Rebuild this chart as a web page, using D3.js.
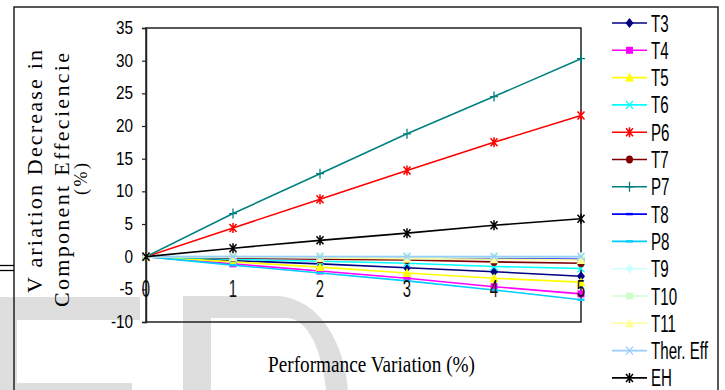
<!DOCTYPE html>
<html><head><meta charset="utf-8">
<script src="https://cdn.jsdelivr.net/npm/d3@7"></script>
<style>html,body{margin:0;padding:0;background:#fff;}svg{display:block;}</style>
</head><body>
<svg id="c" width="725" height="390"></svg>
<script>
const xValues = [0, 1, 2, 3, 4, 5];
const xTickLabels = ["0", "1", "2", "3", "4", "5"];
const yTicks = [-10, -5, 0, 5, 10, 15, 20, 25, 30, 35];
const seriesNames = ["T3", "T4", "T5", "T6", "P6", "T7", "P7", "T8", "P8", "T9", "T10", "T11", "Ther. Eff", "EH"];
const T3 = [0, -0.6, -1.1, -1.7, -2.3, -3.0];
const T4 = [0, -1.1, -2.2, -3.3, -4.6, -5.7];
const T5 = [0, -0.8, -1.6, -2.5, -3.3, -3.9];
const T6 = [0, -0.4, -0.7, -1.0, -1.5, -1.8];
const P6 = [0, 4.4, 8.8, 13.2, 17.5, 21.6];
const T7 = [0, -0.2, -0.4, -0.5, -0.8, -1.0];
const P7 = [0, 6.6, 12.7, 18.8, 24.5, 30.3];
const T8 = [0, -0.1, -0.2, -0.25, -0.3, -0.4];
const P8 = [0, -1.3, -2.5, -3.7, -5.1, -6.6];
const T9 = [0, 0, 0, 0, 0, 0];
const T10 = [0, 0, -0.1, -0.1, -0.1, -0.1];
const T11 = [0, -0.1, -0.2, -0.3, -0.4, -0.5];
const TherEff = [0, 0, 0, 0, 0, 0];
const EH = [0, 1.3, 2.5, 3.6, 4.8, 5.8];
const seriesValues = [T3, T4, T5, T6, P6, T7, P7, T8, P8, T9, T10, T11, TherEff, EH];
const seriesColors = ["#000080", "#ff00ff", "#ffff00", "#00ffff", "#ff0000", "#800000", "#008080", "#0000ff", "#00ccff", "#ccffff", "#ccffcc", "#ffff99", "#99ccff", "#000000"];
const seriesMarkers = ["diamond", "square", "triangle", "x", "star", "circle", "plus", "dash", "dash", "diamond", "square", "triangle", "x", "star"];
const xTitle = "Performance Variation (%)";
const yTitleLines = ["V ariation Decrease in", "Component Effeciencie", "(%)"];

const svg = d3.select("#c");
svg.append("rect").attr("width", 725).attr("height", 390).attr("fill", "#fff");

// background watermark shapes
const wm = svg.append("g").attr("fill", "#dedede");
wm.append("rect").attr("x", 0).attr("y", 297).attr("width", 140).attr("height", 23);
wm.append("rect").attr("x", 0).attr("y", 297).attr("width", 17).attr("height", 93);
wm.append("rect").attr("x", 17).attr("y", 383).attr("width", 115).attr("height", 7);
wm.append("path").attr("d", "M183,296 L280,296 C318,300 344,340 348,390 L326,390 C322,350 308,320 288,318 L211,318 L211,390 L183,390 Z");

// outer frame
svg.append("path").attr("d", "M14,390 L14,7 L718,7 L718,390").attr("fill", "none").attr("stroke", "#222").attr("stroke-width", 1.5);
svg.append("line").attr("x1", 0).attr("x2", 14).attr("y1", 265.5).attr("y2", 265.5).attr("stroke", "#000").attr("stroke-width", 1.3);
svg.append("line").attr("x1", 0).attr("x2", 14).attr("y1", 270.5).attr("y2", 270.5).attr("stroke", "#000").attr("stroke-width", 1.3);

const x = d3.scaleLinear().domain([0, 5]).range([146, 581]);
const y = d3.scaleLinear().domain([-10, 35]).range([322, 28]);

// plot box
svg.append("rect").attr("x", x(0)).attr("y", y(35)).attr("width", x(5) - x(0)).attr("height", y(-10) - y(35))
  .attr("fill", "none").attr("stroke", "#222").attr("stroke-width", 1.5);

// y axis
const yAxis = svg.append("g").attr("transform", `translate(${x(0)},0)`)
  .call(d3.axisLeft(y).tickValues(yTicks).tickSize(4).tickFormat(""));
yAxis.select(".domain").attr("stroke", "#222").attr("stroke-width", 1.5);
yAxis.selectAll(".tick line").attr("stroke", "#222").attr("stroke-width", 1.2);

svg.append("g").selectAll("text").data(yTicks).join("text")
  .attr("transform", d => `translate(133,${y(d) + 6}) scale(0.85,1)`)
  .attr("text-anchor", "end").attr("font-family", "'Liberation Sans', Arial, sans-serif").attr("font-size", 18)
  .attr("fill", "#000").text(d => d);

// lines & markers
const line = d3.line().x((d, i) => x(xValues[i])).y(d => y(d));

function marker(g, type, color, cx, cy) {
  const s = 4;
  if (type === "diamond") {
    g.append("path").attr("d", `M${cx},${cy - s - 1}L${cx + s},${cy}L${cx},${cy + s + 1}L${cx - s},${cy}Z`).attr("fill", color);
  } else if (type === "square") {
    g.append("rect").attr("x", cx - 3.5).attr("y", cy - 3.5).attr("width", 7).attr("height", 7).attr("fill", color);
  } else if (type === "triangle") {
    g.append("path").attr("d", `M${cx},${cy - 5}L${cx + 4.5},${cy + 4}L${cx - 4.5},${cy + 4}Z`).attr("fill", color);
  } else if (type === "circle") {
    g.append("ellipse").attr("cx", cx).attr("cy", cy).attr("rx", 3.5).attr("ry", 4).attr("fill", color);
  } else if (type === "x") {
    g.append("path").attr("d", `M${cx - 3.5},${cy - 4}L${cx + 3.5},${cy + 4}M${cx + 3.5},${cy - 4}L${cx - 3.5},${cy + 4}`).attr("stroke", color).attr("stroke-width", 1.3).attr("fill", "none");
  } else if (type === "star") {
    g.append("path").attr("d", `M${cx - 3.5},${cy - 4}L${cx + 3.5},${cy + 4}M${cx + 3.5},${cy - 4}L${cx - 3.5},${cy + 4}M${cx},${cy - 5}L${cx},${cy + 5}`).attr("stroke", color).attr("stroke-width", 1.5).attr("fill", "none");
  } else if (type === "plus") {
    g.append("path").attr("d", `M${cx - 4},${cy}L${cx + 4},${cy}M${cx},${cy - 5}L${cx},${cy + 5}`).attr("stroke", color).attr("stroke-width", 1.3).attr("fill", "none");
  } else if (type === "dash") {
    g.append("rect").attr("x", cx - 3.5).attr("y", cy - 1.2).attr("width", 7).attr("height", 2.4).attr("fill", color);
  }
}

const plot = svg.append("g");
seriesValues.forEach((vals, si) => {
  const g = plot.append("g");
  g.append("path").datum(vals).attr("d", line).attr("fill", "none")
    .attr("stroke", seriesColors[si]).attr("stroke-width", 1.6);
  vals.forEach((v, i) => marker(g, seriesMarkers[si], seriesColors[si], x(xValues[i]), y(v)));
});

// x tick labels
svg.append("g").selectAll("text").data(xTickLabels).join("text")
  .attr("transform", (d, i) => `translate(${x(xValues[i])},297) scale(0.62,1)`)
  .attr("text-anchor", "middle").attr("font-family", "'Liberation Sans', Arial, sans-serif").attr("font-size", 24)
  .attr("fill", "#111").text(d => d);

// x title
svg.append("text").attr("x", 371.5).attr("y", 372).attr("text-anchor", "middle")
  .attr("font-family", "'Liberation Serif', 'Times New Roman', serif").attr("font-size", 24)
  .attr("textLength", 207).attr("lengthAdjust", "spacingAndGlyphs").attr("fill", "#000").text(xTitle);

// y title
const yTitlePos = [{bx: 42, cy: 171.5, len: 243, fs: 22}, {bx: 69, cy: 180, len: 254, fs: 22}, {bx: 87, cy: 179, len: 32, fs: 18}];
svg.append("g").selectAll("text").data(yTitleLines).join("text")
  .attr("transform", (d, i) => `translate(${yTitlePos[i].bx},${yTitlePos[i].cy}) rotate(-90)`)
  .attr("text-anchor", "middle").attr("font-family", "'Liberation Serif', 'Times New Roman', serif")
  .attr("font-size", (d, i) => yTitlePos[i].fs)
  .attr("textLength", (d, i) => yTitlePos[i].len).attr("lengthAdjust", "spacing").attr("fill", "#000").text(d => d);

// legend
const leg = svg.append("g");
seriesNames.forEach((name, i) => {
  const cy = 23 + i * 27.3;
  const g = leg.append("g");
  g.append("line").attr("x1", 612).attr("x2", 647).attr("y1", cy).attr("y2", cy).attr("stroke", seriesColors[i]).attr("stroke-width", 1.6);
  marker(g, seriesMarkers[i], seriesColors[i], 629.5, cy);
  g.append("text").attr("transform", `translate(651,${cy + 8.5}) scale(0.63,1)`)
    .attr("font-family", "'Liberation Sans', Arial, sans-serif").attr("font-size", 24).attr("fill", "#000").text(name);
});
</script>
</body></html>
